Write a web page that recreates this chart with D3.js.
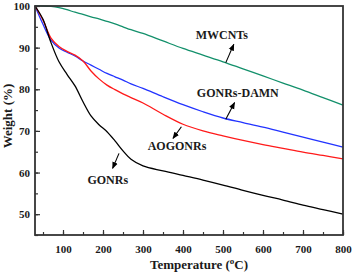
<!DOCTYPE html>
<html>
<head>
<meta charset="utf-8">
<script src="https://cdn.jsdelivr.net/npm/d3@7"></script>
<style>
body { margin: 0; background: #fff; }
text { font-family: "Liberation Serif", "Times New Roman", serif; font-weight: bold; fill: #1a1a1a; }
</style>
</head>
<body>
<svg id="chart" width="354" height="275"></svg>
<script>
var temps = [30, 50, 70, 90, 110, 130, 150, 170, 190, 210, 230, 250, 270, 300, 350, 400, 450, 500, 550, 600, 650, 700, 750, 800];
var gonrs = [100, 96.8, 91.2, 86.6, 83.6, 80.8, 77.0, 73.6, 71.5, 69.8, 67.6, 65.2, 63.2, 61.6, 60.4, 59.3, 58.2, 57.0, 55.7, 54.5, 53.4, 52.2, 51.1, 50.0];
var aogonrs = [100, 96.6, 92.3, 90.3, 89.1, 88.2, 86.8, 84.4, 82.5, 81.0, 79.9, 78.9, 78.0, 76.7, 74.0, 71.6, 70.0, 68.8, 67.7, 66.7, 65.8, 64.9, 64.1, 63.3];
var damn = [100, 95.6, 91.8, 89.9, 88.9, 88.0, 86.8, 85.8, 84.8, 83.8, 83.0, 82.2, 81.3, 80.2, 78.2, 76.3, 74.6, 73.1, 72.0, 70.9, 69.7, 68.5, 67.3, 66.1];
var mwcnts = [100, 100, 99.9, 99.6, 99.1, 98.5, 98.0, 97.4, 96.9, 96.3, 95.7, 95.0, 94.3, 93.4, 91.6, 89.8, 88.2, 86.6, 84.9, 83.2, 81.5, 79.8, 78.0, 76.2];

var xTicks = [100, 200, 300, 400, 500, 600, 700, 800];
var yTicks = [50, 60, 70, 80, 90, 100];

// label text, label position, arrow tail, arrow head (data units)
var labels = [
	{name: 'MWCNTs', x: 497, y: 93.0, ax: [507, 86.4], ah: [527, 90.8]},
	{name: 'GONRs-DAMN', x: 537, y: 79.1, ax: [507, 72.8], ah: [529, 76.8]},
	{name: 'AOGONRs', x: 385, y: 66.4, ax: [396, 71.0], ah: [375, 68.2]},
	{name: 'GONRs', x: 212, y: 58.2, ax: [240, 64.6], ah: [224, 61.0]}
];

var series = [
	{values: mwcnts, color: '#13906b'},
	{values: damn, color: '#2233ff'},
	{values: aogonrs, color: '#ff1a1a'},
	{values: gonrs, color: '#000000'}
];

var svg = d3.select('#chart');
var plotLeft = 35, plotRight = 343, plotTop = 6, plotBottom = 235;

var x = d3.scaleLinear().domain([30, 800]).range([plotLeft, plotRight]);
var y = d3.scaleLinear().domain([45, 100]).range([plotBottom, plotTop]);

svg.append('defs').append('marker')
	.attr('id', 'head')
	.attr('viewBox', '0 0 10 10')
	.attr('refX', 9).attr('refY', 5)
	.attr('markerWidth', 7).attr('markerHeight', 7)
	.attr('markerUnits', 'userSpaceOnUse')
	.attr('orient', 'auto')
	.append('path').attr('d', 'M0,1 L10,5 L0,9 Z').attr('fill', '#000');

// lines
var line = d3.line()
	.x(function(d, i) { return x(temps[i]); })
	.y(function(d) { return y(d); })
	.curve(d3.curveCatmullRom.alpha(0.5));

for (let s of series) {
	svg.append('path')
		.attr('d', line(s.values))
		.attr('fill', 'none')
		.attr('stroke', s.color)
		.attr('stroke-width', 1.3);
}

// axes (ticks inward)
var xMinor = d3.range(50, 801, 50);
var yMinor = d3.range(45, 101, 5);

svg.append('g')
	.attr('transform', 'translate(0,' + plotBottom + ')')
	.call(d3.axisBottom(x).tickValues(xMinor).tickSize(-3).tickFormat(''))
	.call(g => g.select('.domain').remove());
svg.append('g')
	.attr('transform', 'translate(0,' + plotBottom + ')')
	.call(d3.axisBottom(x).tickValues(xTicks).tickSize(-5).tickPadding(10).tickFormat(d3.format('d')))
	.call(g => g.select('.domain').remove())
	.selectAll('text').style('font-size', '11px');

svg.append('g')
	.attr('transform', 'translate(' + plotLeft + ',0)')
	.call(d3.axisLeft(y).tickValues(yMinor).tickSize(-3).tickFormat(''))
	.call(g => g.select('.domain').remove());
svg.append('g')
	.attr('transform', 'translate(' + plotLeft + ',0)')
	.call(d3.axisLeft(y).tickValues(yTicks).tickSize(-5).tickPadding(5).tickFormat(d3.format('d')))
	.call(g => g.select('.domain').remove())
	.selectAll('text').style('font-size', '11px');

svg.selectAll('.tick line').attr('stroke', '#333').attr('stroke-width', 1.2);

// frame
svg.append('rect')
	.attr('x', plotLeft).attr('y', plotTop)
	.attr('width', plotRight - plotLeft).attr('height', plotBottom - plotTop)
	.attr('fill', 'none')
	.attr('stroke', '#333')
	.attr('stroke-width', 1.8);

// annotations
for (let l of labels) {
	svg.append('text')
		.attr('x', x(l.x)).attr('y', y(l.y) + 4)
		.attr('text-anchor', 'middle')
		.style('font-size', '12px')
		.text(l.name);
	svg.append('line')
		.attr('x1', x(l.ax[0])).attr('y1', y(l.ax[1]))
		.attr('x2', x(l.ah[0])).attr('y2', y(l.ah[1]))
		.attr('stroke', '#000').attr('stroke-width', 1.1)
		.attr('marker-end', 'url(#head)');
}

// axis titles
var xt = svg.append('text')
	.attr('x', 199).attr('y', 269)
	.attr('text-anchor', 'middle')
	.style('font-size', '13px');
xt.append('tspan').text('Temperature (');
xt.append('tspan').attr('dy', -5).style('font-size', '9px').text('o');
xt.append('tspan').attr('dy', 5).text('C)');

svg.append('text')
	.attr('transform', 'translate(12,116) rotate(-90)')
	.attr('text-anchor', 'middle')
	.style('font-size', '13px')
	.text('Weight (%)');
</script>
</body>
</html>
